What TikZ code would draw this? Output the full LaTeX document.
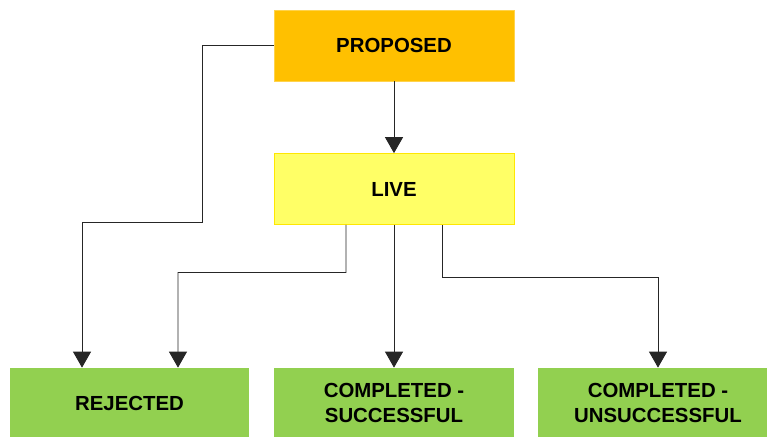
\documentclass[tikz,border=0pt]{standalone}
\usepackage{fontspec}
\setmainfont{Liberation Sans}
\usepackage{tikz}
\usetikzlibrary{arrows.meta}
\usepackage{xcolor}

\definecolor{propcol}{HTML}{FFC000}
\definecolor{livecol}{HTML}{FFFF66}
\definecolor{endcol}{HTML}{92D050}

\begin{document}
\begin{tikzpicture}[x=0.02cm,y=-0.02cm,>={Triangle[length=3.2mm,width=3.6mm]},
  font=\fontsize{11.6}{13.8}\selectfont\bfseries,
  state/.style={minimum width=4.8cm,minimum height=1.42cm,inner sep=0pt,align=center},
  flow/.style={->,black!85,line width=0.55pt}]
\useasboundingbox (0,0) rectangle (767,436);
% states
\node[state,fill=propcol,draw=propcol!70!white] (prop) at (394,45.5) {PROPOSED};
\node[state,fill=livecol,draw=yellow!90!orange] (live) at (394,189) {LIVE};
\node[state,fill=endcol,minimum height=1.4cm] (rej) at (129.5,403) {REJECTED};
\node[state,fill=endcol,minimum height=1.4cm] (succ) at (394,403) {COMPLETED -\\SUCCESSFUL};
\node[state,fill=endcol,minimum height=1.4cm] (unsucc) at (658,403) {COMPLETED -\\UNSUCCESSFUL};
% transitions
\draw[flow] (prop) -- (live);
\draw[flow] (prop.west) -| (202,222.5) -| ([xshift=-0.95cm]rej.north);
\draw[flow] ([xshift=-0.96cm]live.south) |- (178,272.5) -- ([xshift=0.97cm]rej.north);
\draw[flow] (live) -- (succ);
\draw[flow] ([xshift=0.96cm]live.south) |- (658,277) -- (unsucc.north);
\end{tikzpicture}
\end{document}
